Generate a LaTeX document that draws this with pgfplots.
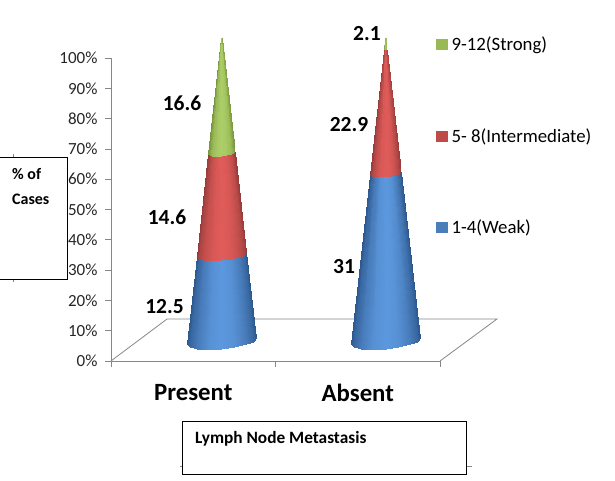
\documentclass[border=0pt]{standalone}
\usepackage{fontspec}
\setmainfont{Carlito}
\usepackage{pgfplots}
\pgfplotsset{compat=1.18}
\definecolor{axisgray}{HTML}{868686}
\definecolor{legblue}{HTML}{4A7EBB}
\definecolor{legred}{HTML}{BE4B48}
\definecolor{leggreen}{HTML}{98B954}
\pgfplotsset{
  colormap={coneblue}{rgb255=(44,88,142) rgb255=(66,116,176) rgb255=(92,152,222)},
  colormap={conered}{rgb255=(150,60,58) rgb255=(188,76,74) rgb255=(224,92,90)},
  colormap={conegreen}{rgb255=(122,150,62) rgb255=(150,182,84) rgb255=(172,206,104)},
  cone/.style={surf, shader=interp, forget plot, mesh/rows=2, point meta=explicit,
    point meta min=0, point meta max=1},
}
\begin{document}
\begin{tikzpicture}
% 1pt = 1px of the reference, origin on the 0% corner
\useasboundingbox (-111pt,-120pt) rectangle (504pt,361pt);
\begin{axis}[
    scale only axis,
    width=329pt, height=303pt,
    xmin=111, xmax=440, ymin=0, ymax=100,
    clip=false,
    axis lines=left,
    axis line style={-, axisgray, line width=0.9pt},
    tick style={axisgray, line width=0.7pt},
    tick align=outside,
    major tick length=6pt,
    xtick={111,275.5,440},
    xticklabels={Present,Absent},
    x tick label as interval,
    xticklabel style={font=\fontsize{24.8}{26}\selectfont\bfseries, yshift=-14pt},
    ytick={0,10,...,100},
    yticklabel={\pgfmathprintnumber{\tick}\%},
    /pgf/number format/assume math mode=true,
    yticklabel style={font=\fontsize{17}{18}\selectfont, text=black!85, xshift=-4pt},
    legend style={at={(axis cs:436,107.8)}, anchor=north west, draw=none, fill=none,
      font=\fontsize{18.8}{20}\selectfont, row sep=72.5pt, inner sep=0pt},
    legend cell align=left,
]
% floor of the 3D chart
\addplot[axisgray, line width=0.8pt, forget plot] coordinates {
  (111,0) (167,13.86) (497,13.86) (440,0)
};

% Present: 12.5, 14.6, 16.6 stacked to 100%
\addplot[cone, colormap name=coneblue] coordinates {
  (187,5.6)[0] (190.45,4.6)[.3] (197.35,4.1)[.6] (209.42,3.9)[.9] (221.5,4.1)[1] (233.58,4.6)[.9] (245.65,5.5)[.6] (252.55,6.4)[.3] (256,7.6)[0]
  (196.87,34.5)[0] (199.33,33.8)[.3] (204.26,33.4)[.6] (212.88,33.3)[.9] (221.5,33.4)[1] (230.12,33.8)[.9] (238.74,34.4)[.6] (243.67,35.1)[.3] (246.13,35.9)[0]
};
\addplot[cone, colormap name=conered] coordinates {
  (196.87,34.5)[0] (199.33,33.8)[.3] (204.26,33.4)[.6] (212.88,33.3)[.9] (221.5,33.4)[1] (230.12,33.8)[.9] (238.74,34.4)[.6] (243.67,35.1)[.3] (246.13,35.9)[0]
  (208.39,68.3)[0] (209.7,67.9)[.3] (212.32,67.7)[.6] (216.91,67.6)[.9] (221.5,67.7)[1] (226.09,67.9)[.9] (230.68,68.2)[.6] (233.3,68.5)[.3] (234.61,69)[0]
};
\addplot[cone, colormap name=conegreen] coordinates {
  (208.39,68.3)[0] (209.7,67.9)[.3] (212.32,67.7)[.6] (216.91,67.6)[.9] (221.5,67.7)[1] (226.09,67.9)[.9] (230.68,68.2)[.6] (233.3,68.5)[.3] (234.61,69)[0]
  (221.49,106.6)[0] (221.49,106.6)[.3] (221.49,106.6)[.6] (221.5,106.6)[.9] (221.5,106.6)[1] (221.5,106.6)[.9] (221.51,106.6)[.6] (221.51,106.6)[.3] (221.51,106.6)[0]
};

% Absent: 31, 22.9, 2.1
\addplot[cone, colormap name=coneblue] coordinates {
  (351,5.6)[0] (354.45,4.6)[.3] (361.35,4.1)[.6] (373.42,3.9)[.9] (385.5,4.1)[1] (397.58,4.6)[.9] (409.65,5.5)[.6] (416.55,6.4)[.3] (420,7.6)[0]
  (370.1,61.5)[0] (371.64,61.1)[.3] (374.72,60.8)[.6] (380.11,60.8)[.9] (385.5,60.8)[1] (390.89,61.1)[.9] (396.28,61.5)[.6] (399.36,61.8)[.3] (400.9,62.4)[0]
};
\addplot[cone, colormap name=conered] coordinates {
  (370.1,61.5)[0] (371.64,61.1)[.3] (374.72,60.8)[.6] (380.11,60.8)[.9] (385.5,60.8)[1] (390.89,61.1)[.9] (396.28,61.5)[.6] (399.36,61.8)[.3] (400.9,62.4)[0]
  (384.21,102.8)[0] (384.34,102.8)[.3] (384.6,102.8)[.6] (384.85,102.8)[.9] (385.5,102.8)[1] (386.15,102.8)[.9] (386.4,102.8)[.6] (386.66,102.8)[.3] (386.79,102.8)[0]
};
\addplot[cone, colormap name=conegreen] coordinates {
  (384.21,102.8)[0] (384.34,102.8)[.3] (384.6,102.8)[.6] (384.85,102.8)[.9] (385.5,102.8)[1] (386.15,102.8)[.9] (386.4,102.8)[.6] (386.66,102.8)[.3] (386.79,102.8)[0]
  (385.49,106.6)[0] (385.49,106.6)[.3] (385.49,106.6)[.6] (385.5,106.6)[.9] (385.5,106.6)[1] (385.5,106.6)[.9] (385.51,106.6)[.6] (385.51,106.6)[.3] (385.51,106.6)[0]
};

\addlegendimage{legend image code/.code={\fill[leggreen] (0pt,-5pt) rectangle (11pt,5pt);}}
\addlegendentry{\hspace{2pt}9-12(Strong)}
\addlegendimage{legend image code/.code={\fill[legred] (0pt,-5pt) rectangle (11pt,5pt);}}
\addlegendentry{\hspace{2pt}5- 8(Intermediate)}
\addlegendimage{legend image code/.code={\fill[legblue] (0pt,-5pt) rectangle (11pt,5pt);}}
\addlegendentry{\hspace{2pt}1-4(Weak)}

% value labels
\begin{scope}[every node/.style={font=\fontsize{21.5}{23}\selectfont\bfseries, text=black}]
\node at (axis cs:182,85) {16.6};
\node at (axis cs:167,47.5) {14.6};
\node at (axis cs:164.5,18) {12.5};
\node at (axis cs:367,108) {2.1};
\node at (axis cs:349,78.2) {22.9};
\node at (axis cs:344,31.3) {31};
\end{scope}
\end{axis}

% stray text boxes of the original
\draw[axisgray, line width=0.5pt] (-98pt,204pt) -- (-98pt,207pt) (-98pt,82pt) -- (-98pt,79pt);
\draw[axisgray, line width=0.5pt] (69pt,-105pt) -- (361pt,-105pt);
\draw[black, line width=0.8pt, fill=white] (-114pt,82pt) rectangle (-44pt,204pt);
\draw[black, line width=0.8pt, fill=white] (71pt,-113pt) rectangle (355pt,-60pt);
\node[font=\fontsize{16}{18}\selectfont\bfseries, anchor=west, inner sep=0pt] at (-99pt,187pt) {\% of};
\node[font=\fontsize{16}{18}\selectfont\bfseries, anchor=west, inner sep=0pt] at (-99pt,162pt) {Cases};
\node[font=\fontsize{17.3}{19}\selectfont\bfseries, anchor=west, inner sep=0pt] at (84pt,-78pt) {Lymph Node Metastasis};
\end{tikzpicture}
\end{document}
